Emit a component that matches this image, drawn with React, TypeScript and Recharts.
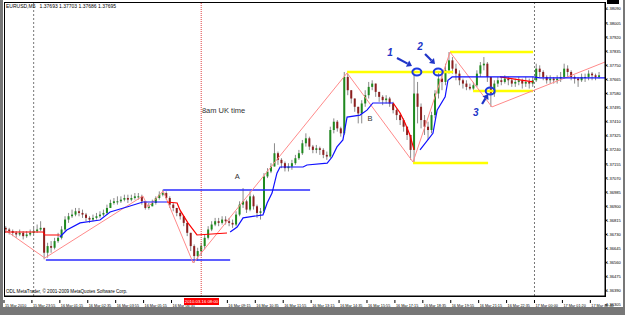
import React from 'react'
import {
  ComposedChart,
  Bar,
  Line,
  XAxis,
  YAxis,
  ReferenceLine,
  ReferenceDot
} from 'recharts'

// EURUSD 10-minute bars (open = previous close)
const firstOpen = 1.3677
const closes = [
  1.3676, 1.3675, 1.3674, 1.3673, 1.3674, 1.3672, 1.3673, 1.3674, 1.3675, 1.3676, 1.3677,
  1.3662, 1.3666, 1.3665, 1.3669, 1.3671, 1.3676, 1.3682, 1.3684, 1.3685, 1.3687,
  1.3686, 1.3685, 1.3683, 1.3682, 1.3683, 1.3684, 1.3685, 1.3686, 1.3689, 1.3692,
  1.3693, 1.3693, 1.3694, 1.3695, 1.3694, 1.3695, 1.3696, 1.3696, 1.3693, 1.3689,
  1.369, 1.3692, 1.3695, 1.3697, 1.3698, 1.3695, 1.3691, 1.3689, 1.3686, 1.3684,
  1.368, 1.3674, 1.3666, 1.366, 1.3663, 1.3666, 1.3671, 1.3676, 1.3679, 1.3681,
  1.368, 1.3682, 1.3681, 1.368, 1.3679, 1.3685, 1.3691, 1.3693, 1.3688, 1.3696,
  1.369, 1.3686, 1.3687, 1.3708, 1.3711, 1.3714, 1.3722, 1.3718, 1.3716, 1.3713,
  1.3714, 1.3716, 1.3719, 1.3722, 1.3728, 1.3731, 1.3726, 1.3724, 1.3725, 1.3724,
  1.3721, 1.372, 1.3736, 1.3741, 1.3737, 1.3734, 1.3768, 1.376, 1.3755, 1.375,
  1.3746, 1.3752, 1.3757, 1.3762, 1.3764, 1.3759, 1.3756, 1.3754, 1.3755, 1.3752,
  1.3748, 1.3745, 1.3742, 1.3738, 1.3733, 1.3724, 1.3758, 1.375, 1.3742, 1.3738,
  1.3736, 1.3745, 1.3758, 1.3767, 1.3765, 1.3772, 1.3778, 1.3773, 1.377, 1.3766,
  1.3764, 1.3762, 1.3761, 1.3763, 1.377, 1.3775, 1.3776, 1.3768, 1.3758, 1.3764,
  1.3766, 1.3765, 1.3767, 1.3766, 1.3764, 1.3765, 1.3766, 1.3764, 1.3765, 1.3764,
  1.3766, 1.3773, 1.3771, 1.3768, 1.3766, 1.3767, 1.3766, 1.3767, 1.3768, 1.3773,
  1.3771, 1.3768, 1.3767, 1.3766, 1.3768, 1.3768, 1.377, 1.3769, 1.3768, 1.3769
]
const highs = [
  1.3678, 1.3677, 1.3676, 1.3675, 1.3676, 1.3675, 1.3675, 1.3676, 1.3677, 1.3679, 1.3681,
  1.3677, 1.3668, 1.3669, 1.3671, 1.3674, 1.3678, 1.3684, 1.3686, 1.3688, 1.3689,
  1.3689, 1.3688, 1.3686, 1.3684, 1.3685, 1.3686, 1.3687, 1.3688, 1.3691, 1.3694,
  1.3695, 1.3696, 1.3696, 1.3697, 1.3697, 1.3697, 1.3698, 1.3698, 1.3697, 1.3693,
  1.3692, 1.3694, 1.3696, 1.3699, 1.37, 1.3699, 1.3696, 1.3692, 1.3689, 1.3687,
  1.3684, 1.368, 1.3674, 1.3667, 1.3665, 1.3668, 1.3673, 1.3678, 1.3681, 1.3683,
  1.3683, 1.3684, 1.3684, 1.3683, 1.3682, 1.3687, 1.3693, 1.3701, 1.3694, 1.3699,
  1.3697, 1.3691, 1.3689, 1.371, 1.3713, 1.3716, 1.3728, 1.3723, 1.3719, 1.3717,
  1.3716, 1.3718, 1.3721, 1.3724, 1.373, 1.3734, 1.3732, 1.3727, 1.3727, 1.3726,
  1.3725, 1.3723, 1.3738, 1.3743, 1.3742, 1.3738, 1.3771, 1.377, 1.376, 1.3755,
  1.375, 1.3754, 1.376, 1.3765, 1.3766, 1.3764, 1.3759, 1.3757, 1.3757, 1.3756,
  1.3753, 1.3749, 1.3746, 1.3743, 1.3738, 1.3733, 1.3773, 1.3765, 1.3752, 1.3745,
  1.3741, 1.3747, 1.376, 1.3771, 1.377, 1.3776, 1.3783, 1.378, 1.3776, 1.3772,
  1.3767, 1.3766, 1.3764, 1.3765, 1.3772, 1.3777, 1.378, 1.3777, 1.3768, 1.3766,
  1.3768, 1.3768, 1.3769, 1.3768, 1.3767, 1.3767, 1.3768, 1.3767, 1.3768, 1.3767,
  1.3768, 1.3776, 1.3775, 1.3772, 1.3769, 1.3769, 1.3768, 1.3769, 1.3771, 1.3776,
  1.3775, 1.3772, 1.3769, 1.3768, 1.377, 1.377, 1.3772, 1.3771, 1.377, 1.3771
]
const lows = [
  1.3674, 1.3673, 1.3672, 1.3671, 1.3672, 1.367, 1.3671, 1.3672, 1.3673, 1.3674, 1.3675,
  1.3658, 1.3659, 1.3662, 1.3664, 1.3668, 1.367, 1.3675, 1.368, 1.3683, 1.3684,
  1.3684, 1.3683, 1.3681, 1.368, 1.3681, 1.3682, 1.3683, 1.3684, 1.3685, 1.3689,
  1.3691, 1.3691, 1.3692, 1.3693, 1.3692, 1.3693, 1.3694, 1.3694, 1.3691, 1.3688,
  1.3688, 1.369, 1.3691, 1.3694, 1.3696, 1.3694, 1.3689, 1.3687, 1.3684, 1.3682,
  1.3678, 1.3672, 1.3663, 1.3656, 1.3657, 1.366, 1.3664, 1.367, 1.3675, 1.3678,
  1.3678, 1.3679, 1.3679, 1.3678, 1.3677, 1.3678, 1.3684, 1.3689, 1.3686, 1.3687,
  1.3688, 1.3683, 1.3682, 1.3686, 1.3707, 1.371, 1.3714, 1.3715, 1.3713, 1.3711,
  1.3711, 1.3712, 1.3715, 1.3718, 1.3721, 1.3726, 1.3724, 1.3722, 1.3722, 1.3721,
  1.3719, 1.3718, 1.3719, 1.3734, 1.3735, 1.3732, 1.3733, 1.3757, 1.3752, 1.3747,
  1.374, 1.374, 1.375, 1.3755, 1.376, 1.3756, 1.3753, 1.3751, 1.3752, 1.375,
  1.3746, 1.3742, 1.3739, 1.3735, 1.373, 1.3718, 1.3716, 1.374, 1.3737, 1.3733,
  1.373, 1.3734, 1.3743, 1.3755, 1.376, 1.3763, 1.377, 1.377, 1.3766, 1.3763,
  1.3761, 1.376, 1.376, 1.376, 1.3762, 1.3768, 1.3772, 1.3765, 1.375, 1.3756,
  1.3762, 1.3763, 1.3764, 1.3763, 1.3762, 1.3762, 1.3763, 1.3761, 1.3762, 1.3761,
  1.3762, 1.3765, 1.3768, 1.3766, 1.3764, 1.3764, 1.3764, 1.3764, 1.3765, 1.3767,
  1.3768, 1.3766, 1.3764, 1.3762, 1.3765, 1.3765, 1.3766, 1.3766, 1.3766, 1.3767
]

// time axis: one label every 8 bars (80 minutes); 07:55 sits under the red cursor box
const timeTicks = [0, 8, 16, 24, 32, 40, 48, 56, 64, 72, 80, 88, 96, 104, 112, 120, 128, 136, 144, 152, 160, 168]
const timeLabels = [
  '15 Mar 2010', '15 Mar 23:55', '16 Mar 01:15', '16 Mar 02:35', '16 Mar 03:55', '16 Mar 05:15',
  '16 Mar 06:35', '', '16 Mar 09:15', '16 Mar 10:35', '16 Mar 11:55', '16 Mar 13:15',
  '16 Mar 14:35', '16 Mar 15:55', '16 Mar 17:15', '16 Mar 18:35', '16 Mar 19:55', '16 Mar 21:15',
  '16 Mar 22:35', '17 Mar 00:00', '17 Mar 01:20', '17 Mar 02:40'
]
const priceTicks = [
  1.36305, 1.3639, 1.36475, 1.3656, 1.36645, 1.3673, 1.36815, 1.369, 1.36985, 1.3707, 1.37155,
  1.3724, 1.37325, 1.3741, 1.37495, 1.3758, 1.37665, 1.3775, 1.37835, 1.3792, 1.38005, 1.3809
]

// indicator lines [bar, price]
const redLines = [
  [[0, 1.36745], [11.2, 1.36745], [11.7, 1.36727], [16, 1.36727]],
  [[46.7, 1.36926], [49.6, 1.3692], [50.4, 1.36878], [52.7, 1.368], [55.3, 1.36727], [63.9, 1.36739]],
  [[111.5, 1.37523], [113.5, 1.37463], [114.9, 1.37402], [116.3, 1.3733], [117.5, 1.3724]],
  [[142.1, 1.3768], [151.6, 1.3765]]
]
const blueLines = [
  [[16, 1.36715], [18, 1.36757], [21.8, 1.368], [27.5, 1.36817], [30.4, 1.36866], [35.2, 1.36896], [39.8, 1.36926], [46.7, 1.36926]],
  [[64.8, 1.36745], [66.8, 1.36775], [68.5, 1.3683], [74.2, 1.36848], [75.4, 1.3692], [76.8, 1.3698], [78.2, 1.371],
    [79.1, 1.37137], [85.7, 1.37137], [86.8, 1.37149], [92.6, 1.3716], [94, 1.37197], [95.4, 1.37258], [97.1, 1.373],
    [98.3, 1.37438], [102, 1.3745], [104, 1.3748], [105.7, 1.37523], [111.5, 1.37523]],
  [[119.2, 1.3724], [122.9, 1.3734], [124.1, 1.3748], [126.4, 1.3756], [127.2, 1.3766], [128.4, 1.3768],
    [151.6, 1.3768], [153.6, 1.37674], [172.2, 1.37674]]
]
const zigzag = [
  [0.3, 1.36757], [11.7, 1.36588], [39.8, 1.36962], [41.3, 1.36896], [45.6, 1.36992], [54.2, 1.36558],
  [98.3, 1.37704], [117.2, 1.37167], [127.8, 1.3783], [139.8, 1.37499], [172.2, 1.3777]
]
const blueLevels = [[12, 64.8, 1.36576], [45.6, 87.7, 1.36998]]
const yellowLevels = [[98.3, 128.7, 1.3771], [127.8, 151.6, 1.3783], [134.4, 151.6, 1.37595], [117.2, 138.7, 1.37161]]
const circles = [[118.3, 1.3771], [124.4, 1.3771], [139.3, 1.37595]]
const arrows = [
  { x: 116.9, y: 1.37746, dx: -15, dy: -8 },
  { x: 123.5, y: 1.37758, dx: -10, dy: -10 },
  { x: 138.7, y: 1.37577, dx: -6, dy: 10 }
]
const numbers = [['1', 110.6, 1.37824], ['2', 119.2, 1.3786], ['3', 135.2, 1.37463]]
const notes = [['A', 66.8, 1.37077], ['B', 104.9, 1.37426], ['8am UK time', 56.7, 1.37475]]

const candles = closes.map((c, i) => ({
  x: i + 0.5,
  open: i === 0 ? firstOpen : closes[i - 1],
  close: c,
  high: highs[i],
  low: lows[i],
  range: [lows[i], highs[i]]
}))

const Candle = (props: any) => {
  const { x, y, width, height, payload } = props
  if (!payload) return null
  const h = Math.abs(height)
  const ratio = h / (payload.high - payload.low)
  const cx = x + width / 2
  const top = y + (payload.high - Math.max(payload.open, payload.close)) * ratio
  const bh = Math.max(1, Math.abs(payload.open - payload.close) * ratio)
  const up = payload.close >= payload.open
  return (
    <g>
      <line x1={cx} x2={cx} y1={y} y2={y + h} stroke="#8a8a8a" strokeWidth={1} />
      <rect x={cx - 1} y={top} width={2} height={bh} fill={up ? '#1f8a1f' : '#8c1f1f'} />
    </g>
  )
}

const TimeTick = ({ x, y, index }: any) => (
  <g>
    <line x1={x} x2={x} y1={y - 4} y2={y - 1} stroke="#000" />
    <text x={x + 1} y={y + 2.5} fontSize={3.8} fill="#000" fontFamily="Liberation Sans">
      {timeLabels[index]}
    </text>
  </g>
)

const PriceTick = ({ x, y, payload }: any) => (
  <text x={x - 3} y={y + 1.5} fontSize={4.1} fill="#000" fontFamily="Liberation Sans">
    {payload.value.toFixed(5)}
  </text>
)

const Arrow = ({ cx, cy, dx, dy }: any) => {
  const len = Math.sqrt(dx * dx + dy * dy)
  const ux = -dx / len
  const uy = -dy / len
  const bx = cx - ux * 5
  const by = cy - uy * 5
  return (
    <g>
      <line x1={cx + dx} y1={cy + dy} x2={bx} y2={by} stroke="#2035c8" strokeWidth={2.2} />
      <path
        d={`M${cx},${cy} L${bx - uy * 3.5},${by + ux * 3.5} L${bx + uy * 3.5},${by - ux * 3.5} Z`}
        fill="#2035c8"
      />
    </g>
  )
}

export default function App() {
  return (
    <div style={{ position: 'relative', width: 625, height: 315, background: '#fff', fontFamily: 'Liberation Sans' }}>
      <style>{'body{margin:0}'}</style>
      <ComposedChart
        width={625}
        height={315}
        data={candles}
        margin={{ top: 2, right: 3, left: 4, bottom: 8 }}
      >
        <XAxis
          dataKey="x"
          type="number"
          domain={[0, 172.2]}
          allowDataOverflow
          ticks={timeTicks}
          tick={<TimeTick />}
          tickLine={false}
          height={11}
          stroke="#000"
          interval={0}
        />
        <YAxis
          orientation="right"
          type="number"
          domain={[1.36359, 1.38132]}
          allowDataOverflow
          ticks={priceTicks}
          tick={<PriceTick />}
          tickSize={2}
          width={17}
          stroke="#000"
          interval={0}
        />
        <ReferenceLine x={8.5} stroke="#777" strokeDasharray="2 2" />
        <ReferenceLine x={152} stroke="#777" strokeDasharray="2 2" />
        <ReferenceLine x={56.5} stroke="#e04040" strokeDasharray="1 1" />
        {blueLevels.map((l, i) => (
          <ReferenceLine key={'b' + i} segment={[{ x: l[0], y: l[2] }, { x: l[1], y: l[2] }]} stroke="#2a2aff" strokeWidth={1.5} />
        ))}
        {yellowLevels.map((l, i) => (
          <ReferenceLine key={'y' + i} segment={[{ x: l[0], y: l[2] }, { x: l[1], y: l[2] }]} stroke="#ffff00" strokeWidth={2.5} />
        ))}
        <Line
          data={zigzag.map(p => ({ x: p[0], v: p[1] }))}
          dataKey="v"
          stroke="#ff8a8a"
          strokeWidth={1}
          dot={false}
          isAnimationActive={false}
        />
        <Bar dataKey="range" barSize={3} shape={<Candle />} isAnimationActive={false} />
        {redLines.map((seg, i) => (
          <Line
            key={'r' + i}
            data={seg.map(p => ({ x: p[0], v: p[1] }))}
            dataKey="v"
            stroke="#ff0000"
            strokeWidth={1.2}
            dot={false}
            isAnimationActive={false}
          />
        ))}
        {blueLines.map((seg, i) => (
          <Line
            key={'bl' + i}
            data={seg.map(p => ({ x: p[0], v: p[1] }))}
            dataKey="v"
            stroke="#1010ff"
            strokeWidth={1.2}
            dot={false}
            isAnimationActive={false}
          />
        ))}
        {circles.map((c, i) => (
          <ReferenceDot
            key={'c' + i}
            x={c[0]}
            y={c[1]}
            r={4}
            shape={(p: any) => <ellipse cx={p.cx} cy={p.cy} rx={4.5} ry={3.5} fill="none" stroke="#1f3be0" strokeWidth={2} />}
          />
        ))}
        {arrows.map((a, i) => (
          <ReferenceDot key={'a' + i} x={a.x} y={a.y} r={1} shape={(p: any) => <Arrow cx={p.cx} cy={p.cy} dx={a.dx} dy={a.dy} />} />
        ))}
        {numbers.map((n, i) => (
          <ReferenceDot
            key={'n' + i}
            x={n[1] as number}
            y={n[2] as number}
            r={1}
            shape={(p: any) => (
              <text x={p.cx} y={p.cy + 3} fontSize={10} fontWeight="bold" fontStyle="italic" fill="#2035c8" textAnchor="middle">
                {n[0]}
              </text>
            )}
          />
        ))}
        {notes.map((n, i) => (
          <ReferenceDot
            key={'t' + i}
            x={n[1] as number}
            y={n[2] as number}
            r={1}
            shape={(p: any) => (
              <text x={p.cx} y={p.cy + 2} fontSize={7.5} fill="#333" textAnchor={i === 2 ? 'start' : 'middle'}>
                {n[0]}
              </text>
            )}
          />
        ))}
      </ComposedChart>
      <div style={{ position: 'absolute', left: 4, top: 2, width: 600, height: 293, border: '1px solid #000', pointerEvents: 'none' }} />
      <div style={{ position: 'absolute', left: 6, top: 3, fontSize: 5, whiteSpace: 'pre' }}>
        {'EURUSD,M5   1.37693 1.37703 1.37686 1.37695'}
      </div>
      <div style={{ position: 'absolute', left: 6, top: 289, fontSize: 4.6, whiteSpace: 'pre' }}>
        {'ODL MetaTrader, © 2001-2009 MetaQuotes Software Corp.'}
      </div>
      <div style={{ position: 'absolute', left: 184, top: 298, width: 35, height: 7, background: '#ff0000', color: '#fff', fontSize: 4.3, lineHeight: '7px', textAlign: 'center' }}>
        2010.03.16 08:00
      </div>
      <div style={{ position: 'absolute', left: 0, top: 0, width: 3, height: 315, background: '#777' }} />
      <div style={{ position: 'absolute', left: 623, top: 0, width: 2, height: 315, background: '#777' }} />
      <div style={{ position: 'absolute', left: 0, top: 307, width: 625, height: 8, background: '#777' }} />
      <div style={{ position: 'absolute', left: 607, top: 0, width: 12, height: 4, background: '#000' }} />
    </div>
  )
}
